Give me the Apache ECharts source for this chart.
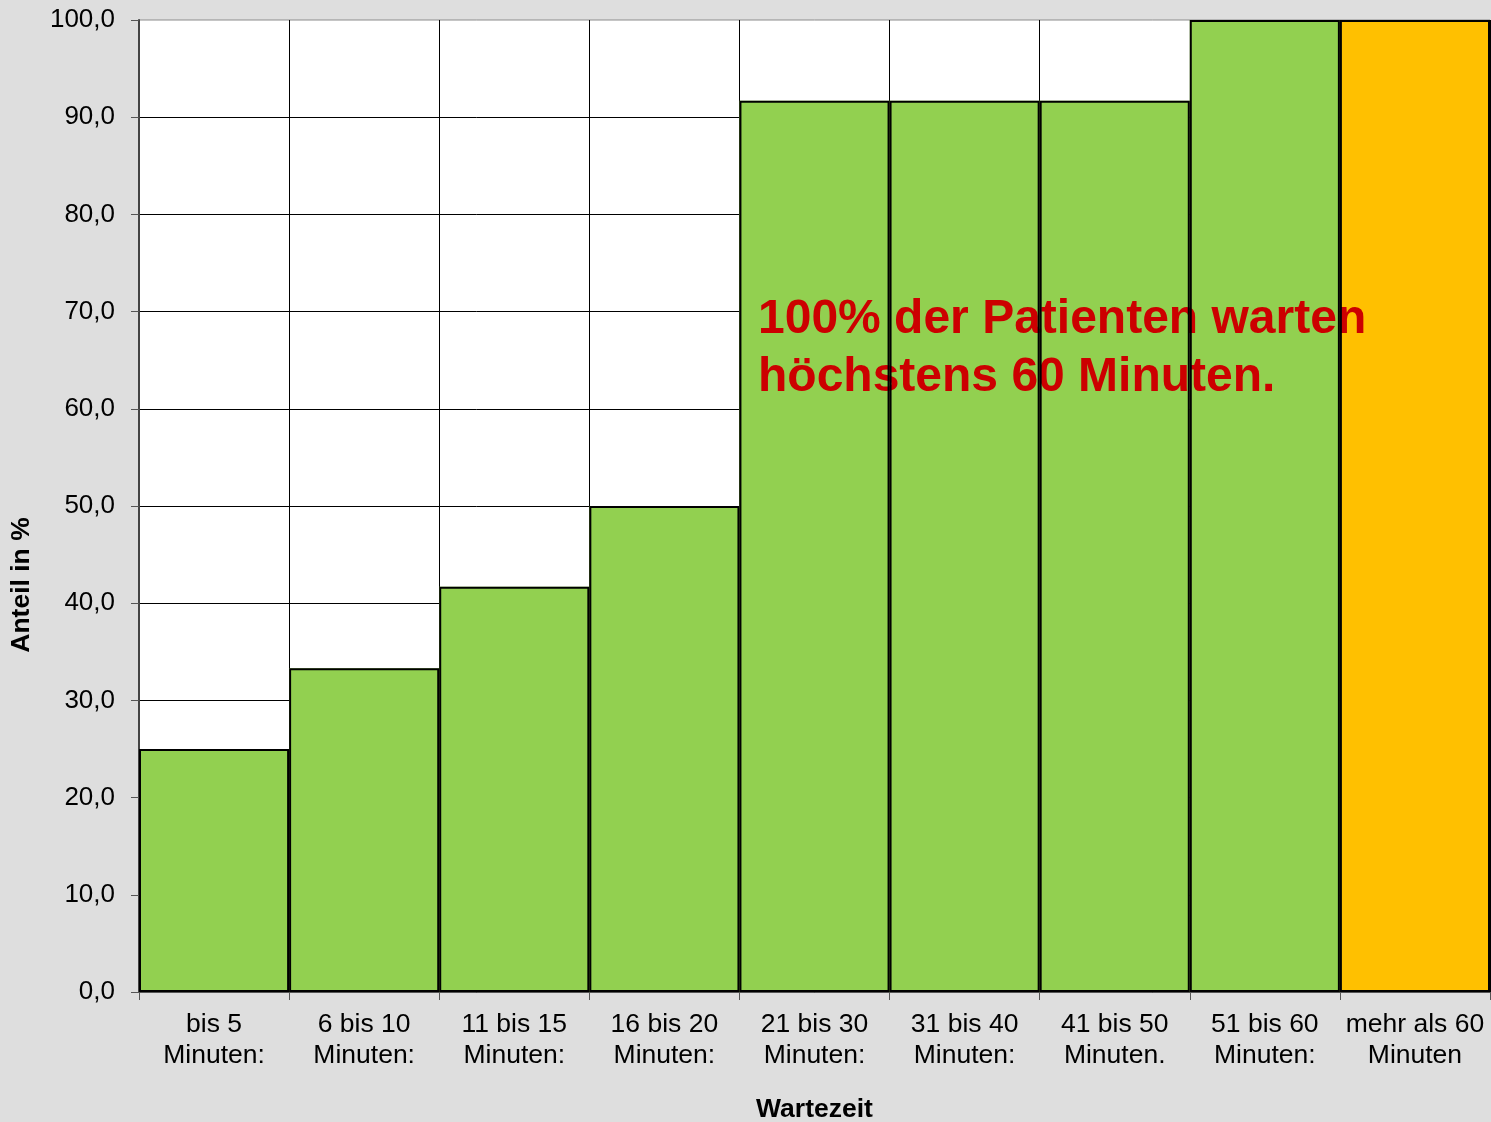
<!DOCTYPE html>
<html>
<head>
<meta charset="utf-8">
<script src="https://cdn.jsdelivr.net/npm/echarts@6/dist/echarts.min.js"></script>
<style>
html,body{margin:0;padding:0;background:#dedede;}
#chart{width:1491px;height:1122px;}
</style>
</head>
<body>
<div id="chart"></div>
<script>
var categories = ['bis 5\nMinuten:', '6 bis 10\nMinuten:', '11 bis 15\nMinuten:', '16 bis 20\nMinuten:', '21 bis 30\nMinuten:', '31 bis 40\nMinuten:', '41 bis 50\nMinuten.', '51 bis 60\nMinuten:', 'mehr als 60\nMinuten'];
var values = [25.0, 33.3, 41.7, 50.0, 91.7, 91.7, 91.7, 100.0, 100.0];
var yTicks = { min: 0, max: 100, interval: 10 };
var annotationLines = ['100% der Patienten warten', 'höchstens 60 Minuten.'];
var xTitle = 'Wartezeit';
var yTitle = 'Anteil in %';

var FONT = '"Liberation Sans", Arial, sans-serif';
var chart = echarts.init(document.getElementById('chart'), null, { renderer: 'canvas' });
var lastIdx = values.length - 1;

var option = {
  backgroundColor: '#dedede',
  animation: false,
  grid: {
    left: 139, right: 1, top: 20, bottom: 130,
    containLabel: false, outerBoundsMode: 'none',
    show: true, backgroundColor: '#ffffff', borderColor: '#8c8c8c', borderWidth: 1
  },
  xAxis: {
    type: 'category',
    data: categories,
    name: xTitle,
    nameLocation: 'middle',
    nameGap: 104,
    nameTextStyle: { fontFamily: FONT, fontSize: 26.5, fontWeight: 'bold', color: '#000' },
    axisLine: { show: true, lineStyle: { color: '#555', width: 1 } },
    axisTick: { show: true, length: 8, lineStyle: { color: '#555' } },
    axisLabel: { fontFamily: FONT, fontSize: 26.5, color: '#000', lineHeight: 31, margin: 17, interval: 0 },
    splitLine: { show: true, lineStyle: { color: '#000', width: 1 } }
  },
  yAxis: {
    type: 'value',
    min: yTicks.min, max: yTicks.max, interval: yTicks.interval,
    name: yTitle,
    nameLocation: 'middle',
    nameGap: 104,
    nameRotate: 90,
    nameTextStyle: { fontFamily: FONT, fontSize: 26.5, fontWeight: 'bold', color: '#000', padding: [0, 158, 0, 0] },
    axisLine: { show: true, lineStyle: { color: '#444', width: 2 } },
    axisTick: { show: true, length: 8, lineStyle: { color: '#555' } },
    axisLabel: {
      fontFamily: FONT, fontSize: 26, color: '#000', margin: 24,
      formatter: function (v) { return v.toFixed(1).replace('.', ','); }
    },
    splitLine: { show: true, showMaxLine: false, lineStyle: { color: '#000', width: 1 } }
  },
  series: [
    {
      type: 'bar',
      data: values,
      barCategoryGap: '0%',
      barGap: '-100%',
      z: 1,
      itemStyle: {
        color: function (p) { return p.dataIndex === lastIdx ? '#ffc000' : '#92d050'; },
        borderWidth: 0
      }
    },
    {
      type: 'bar',
      data: values,
      barCategoryGap: '0%',
      barGap: '-100%',
      z: 10,
      silent: true,
      itemStyle: { color: 'rgba(0,0,0,0)', borderColor: '#000', borderWidth: 2 }
    }
  ],
  graphic: [
    {
      type: 'text', z: 5, left: 758, top: 296,
      style: { text: annotationLines[0], fill: '#cc0000', font: 'bold 48px ' + FONT }
    },
    {
      type: 'text', z: 5, left: 758, top: 354,
      style: { text: annotationLines[1], fill: '#cc0000', font: 'bold 48px ' + FONT }
    }
  ]
};
chart.setOption(option);
</script>
</body>
</html>
